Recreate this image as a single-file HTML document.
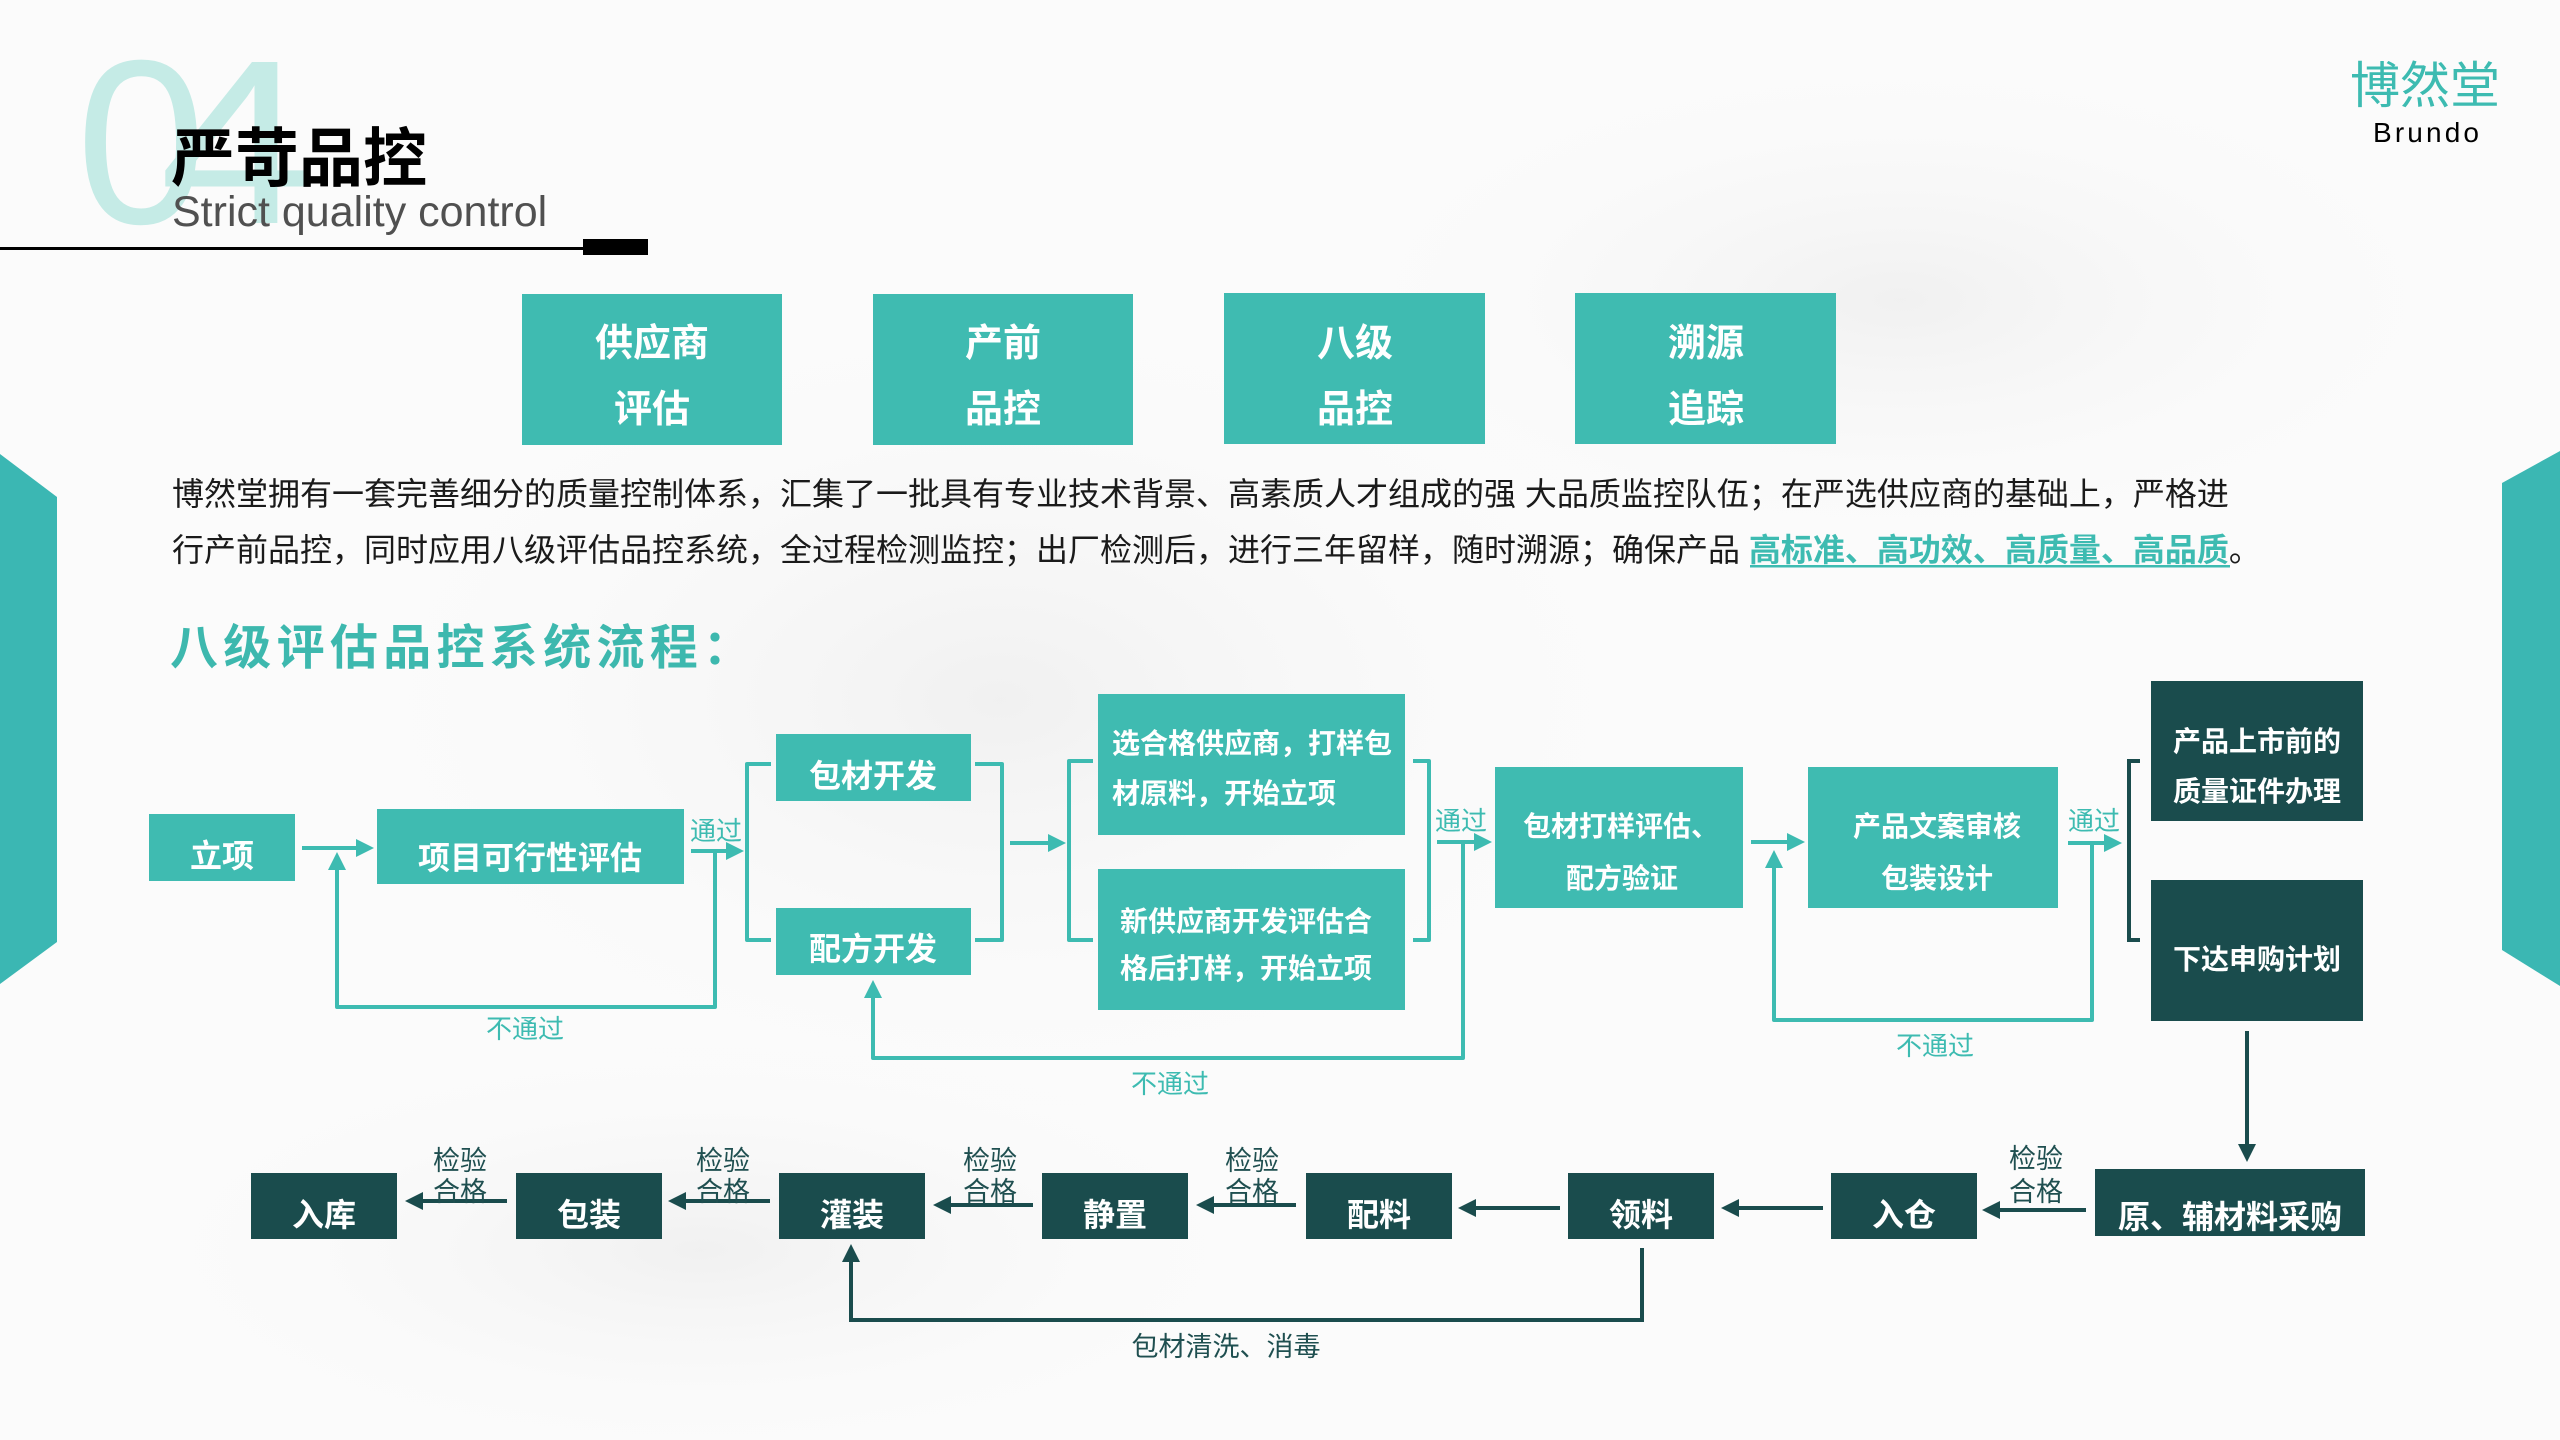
<!DOCTYPE html>
<html>
<head>
<meta charset="utf-8">
<style>
html,body{margin:0;padding:0;width:2560px;height:1440px;overflow:hidden;background:#fbfbfb;}
svg{display:block;}
text{font-family:"Liberation Sans","Noto Sans CJK SC",sans-serif;}
.b{font-weight:bold;}
.w{fill:#ffffff;}
.tl{fill:#3dbbb1;font-size:26px;}
.dk{fill:#1f4f50;font-size:27px;}
</style>
</head>
<body>
<svg width="2560" height="1440" viewBox="0 0 2560 1440" xmlns="http://www.w3.org/2000/svg">
<defs>
<radialGradient id="g1" cx="50%" cy="50%" r="50%">
<stop offset="0" stop-color="#ececec" stop-opacity="0.7"/>
<stop offset="1" stop-color="#fbfbfb" stop-opacity="0"/>
</radialGradient>
</defs>
<rect x="0" y="0" width="2560" height="1440" fill="#fbfbfb"/>
<ellipse cx="1000" cy="700" rx="700" ry="420" fill="url(#g1)"/>
<ellipse cx="1900" cy="300" rx="600" ry="260" fill="url(#g1)"/>
<ellipse cx="700" cy="1250" rx="600" ry="220" fill="url(#g1)"/>

<!-- side shapes -->
<polygon points="0,454 57,497 57,942 0,984" fill="#3bb7b3"/>
<polygon points="2502,483 2560,451 2560,986 2502,950" fill="#3bb7b3"/>

<!-- header -->
<text x="76" y="223" font-size="234" fill="#c5ebe6">0</text>
<text x="159" y="223" font-size="234" fill="#c5ebe6" textLength="153" lengthAdjust="spacingAndGlyphs">4</text>
<text x="171" y="181" font-size="64" class="b" fill="#000">严苛品控</text>
<text x="172" y="226" font-size="43" fill="#505050">Strict quality control</text>
<rect x="0" y="247" width="585" height="3" fill="#000"/>
<rect x="583" y="239" width="65" height="16" fill="#000"/>

<!-- logo -->
<text x="2425" y="103" font-size="50" fill="#3dbbb1" text-anchor="middle">博然堂</text>
<text x="2373" y="142" font-size="28" fill="#000" textLength="106" lengthAdjust="spacing">Brundo</text>

<!-- top 4 boxes -->
<rect x="522" y="294" width="260" height="151" fill="#3fbbb1"/>
<rect x="873" y="294" width="260" height="151" fill="#3fbbb1"/>
<rect x="1224" y="293" width="261" height="151" fill="#3fbbb1"/>
<rect x="1575" y="293" width="261" height="151" fill="#3fbbb1"/>
<g class="b w" font-size="38" text-anchor="middle">
<text x="652" y="356">供应商</text><text x="652" y="422">评估</text>
<text x="1003" y="356">产前</text><text x="1003" y="422">品控</text>
<text x="1355" y="356">八级</text><text x="1355" y="422">品控</text>
<text x="1706" y="356">溯源</text><text x="1706" y="422">追踪</text>
</g>

<!-- paragraph -->
<text x="172" y="505" font-size="32" fill="#1a1a1a">博然堂拥有一套完善细分的质量控制体系，汇集了一批具有专业技术背景、高素质人才组成的强 大品质监控队伍；在严选供应商的基础上，严格进</text>
<text x="172" y="561" font-size="32" fill="#1a1a1a">行产前品控，同时应用八级评估品控系统，全过程检测监控；出厂检测后，进行三年留样，随时溯源；确保产品 <tspan class="b" fill="#3dbbb1">高标准、高功效、高质量、高品质</tspan>。</text>
<rect x="1750" y="565" width="480" height="2.5" fill="#3dbbb1"/>

<!-- heading -->
<text x="170" y="664" font-size="48" class="b" fill="#3db8ae" letter-spacing="5.3">八级评估品控系统流程：</text>

<!-- ===== flow top ===== -->
<g fill="#3fbbb1">
<rect x="149" y="814" width="146" height="67"/>
<rect x="377" y="809" width="307" height="75"/>
<rect x="776" y="734" width="195" height="67"/>
<rect x="776" y="908" width="195" height="67"/>
<rect x="1098" y="694" width="307" height="141"/>
<rect x="1098" y="869" width="307" height="141"/>
<rect x="1495" y="767" width="248" height="141"/>
<rect x="1808" y="767" width="250" height="141"/>
</g>
<g fill="#1a4c4d">
<rect x="2151" y="681" width="212" height="140"/>
<rect x="2151" y="880" width="212" height="141"/>
</g>

<g class="b w" font-size="32" text-anchor="middle">
<text x="222" y="867">立项</text>
<text x="530" y="869">项目可行性评估</text>
<text x="873" y="787">包材开发</text>
<text x="873" y="960">配方开发</text>
</g>
<g class="b w" font-size="28">
<text x="1112" y="753">选合格供应商，打样包</text>
<text x="1112" y="803">材原料，开始立项</text>
<text x="1120" y="931">新供应商开发评估合</text>
<text x="1120" y="978">格后打样，开始立项</text>
</g>
<g class="b w" font-size="28" text-anchor="middle">
<text x="1621" y="836">包材打样评估、</text>
<text x="1622" y="888">配方验证</text>
<text x="1937" y="836">产品文案审核</text>
<text x="1937" y="888">包装设计</text>
<text x="2257" y="751">产品上市前的</text>
<text x="2257" y="801">质量证件办理</text>
<text x="2257" y="969">下达申购计划</text>
</g>

<!-- teal connectors -->
<g stroke="#3dbbb1" stroke-width="4" fill="none" stroke-linejoin="round">
<line x1="302" y1="848" x2="360" y2="848"/>
<line x1="691" y1="851" x2="730" y2="851"/>
<line x1="1010" y1="843" x2="1052" y2="843"/>
<line x1="1437" y1="842" x2="1478" y2="842"/>
<line x1="1751" y1="842" x2="1791" y2="842"/>
<line x1="2068" y1="843" x2="2108" y2="843"/>
<path d="M715,851 V1007 H337 V866"/>
<path d="M1463,842 V1058 H873 V994"/>
<path d="M2092,843 V1020 H1774 V864"/>
<path d="M771,764 H747 V940 H771"/>
<path d="M975,764 H1002 V940 H975"/>
<path d="M1093,761 H1069 V940 H1093"/>
<path d="M1413,761 H1429 V940 H1413"/>
</g>
<g fill="#3dbbb1">
<polygon points="374,848 356,839 356,857"/>
<polygon points="744,851 726,842 726,860"/>
<polygon points="1066,843 1048,834 1048,852"/>
<polygon points="1492,842 1474,833 1474,851"/>
<polygon points="1805,842 1787,833 1787,851"/>
<polygon points="2122,843 2104,834 2104,852"/>
<polygon points="337,852 328,870 346,870"/>
<polygon points="873,980 864,998 882,998"/>
<polygon points="1774,850 1765,868 1783,868"/>
</g>
<path d="M2140,761 H2129 V940 H2140" stroke="#1a4c4d" stroke-width="4" fill="none"/>

<!-- teal labels -->
<g class="tl" text-anchor="middle">
<text x="716" y="840">通过</text>
<text x="1461" y="830">通过</text>
<text x="2094" y="830">通过</text>
<text x="525" y="1038">不通过</text>
<text x="1170" y="1093">不通过</text>
<text x="1935" y="1055">不通过</text>
</g>

<!-- ===== bottom row ===== -->
<g fill="#1a4c4d">
<rect x="251" y="1173" width="146" height="66"/>
<rect x="516" y="1173" width="146" height="66"/>
<rect x="779" y="1173" width="146" height="66"/>
<rect x="1042" y="1173" width="146" height="66"/>
<rect x="1306" y="1173" width="146" height="66"/>
<rect x="1568" y="1173" width="146" height="66"/>
<rect x="1831" y="1173" width="146" height="66"/>
<rect x="2095" y="1169" width="270" height="67"/>
</g>
<g class="b w" font-size="32" text-anchor="middle">
<text x="324" y="1226">入库</text>
<text x="589" y="1226">包装</text>
<text x="852" y="1226">灌装</text>
<text x="1115" y="1226">静置</text>
<text x="1379" y="1226">配料</text>
<text x="1641" y="1226">领料</text>
<text x="1904" y="1226">入仓</text>
<text x="2230" y="1228">原、辅材料采购</text>
</g>

<g stroke="#1a4c4d" stroke-width="4" fill="none">
<line x1="2247" y1="1031" x2="2247" y2="1146"/>
<line x1="2086" y1="1210" x2="1996" y2="1210"/>
<line x1="1823" y1="1208" x2="1735" y2="1208"/>
<line x1="1560" y1="1208" x2="1472" y2="1208"/>
<line x1="1296" y1="1205" x2="1210" y2="1205"/>
<line x1="1033" y1="1205" x2="947" y2="1205"/>
<line x1="770" y1="1201" x2="682" y2="1201"/>
<line x1="507" y1="1201" x2="419" y2="1201"/>
<path d="M1642,1248 V1320 H851 V1260"/>
</g>
<g fill="#1a4c4d">
<polygon points="2247,1162 2238,1144 2256,1144"/>
<polygon points="1982,1210 2000,1201 2000,1219"/>
<polygon points="1721,1208 1739,1199 1739,1217"/>
<polygon points="1458,1208 1476,1199 1476,1217"/>
<polygon points="1196,1205 1214,1196 1214,1214"/>
<polygon points="933,1205 951,1196 951,1214"/>
<polygon points="668,1201 686,1192 686,1210"/>
<polygon points="405,1201 423,1192 423,1210"/>
<polygon points="851,1244 842,1262 860,1262"/>
</g>

<g class="dk" text-anchor="middle">
<text x="460" y="1170">检验</text><text x="460" y="1201">合格</text>
<text x="723" y="1170">检验</text><text x="723" y="1201">合格</text>
<text x="990" y="1170">检验</text><text x="990" y="1201">合格</text>
<text x="1252" y="1170">检验</text><text x="1252" y="1201">合格</text>
<text x="2036" y="1168">检验</text><text x="2036" y="1201">合格</text>
<text x="1226" y="1356">包材清洗、消毒</text>
</g>
</svg>
</body>
</html>
